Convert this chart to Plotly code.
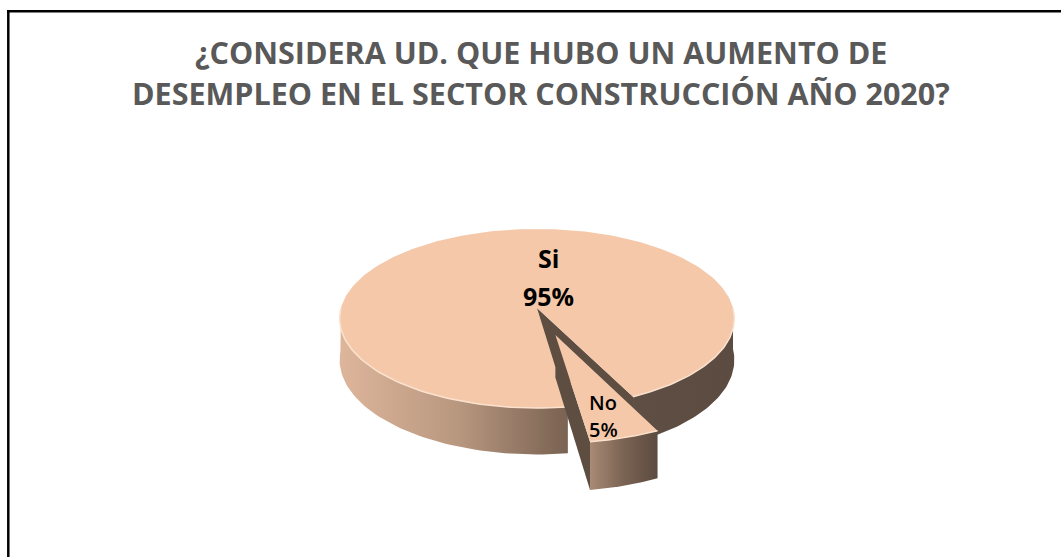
import math
import plotly.graph_objects as go

# ---- data ----
categories = ["Si", "No"]
values = [95, 5]
title_lines = ["¿CONSIDERA UD. QUE HUBO UN AUMENTO DE",
               "DESEMPLEO EN EL SECTOR CONSTRUCCIÓN AÑO 2020?"]

# ---- style / geometry (pixel space) ----
W, H = 1061, 557
CX, CY = 537, 308          # pie apex on screen
A, B = 196, 88.3           # ellipse radii
P = 0.117                  # perspective factor
D = 41                     # thickness
START = 172                # first slice angle (deg, clockwise from 12 o'clock)
EXPLODE = [0.0, 0.31]
TOP_COL = "#F4C8A9"
CUT_COL = "#5E4D41"

total = sum(values)
pcts = [round(v * 100 / total) for v in values]


def proj(theta, r=1.0, off=(0.0, 0.0), z=0.0):
    t = math.radians(theta)
    u = r * math.sin(t) + off[0]
    v = -r * math.cos(t) + off[1]
    s = 1.0 / (1.0 - P * v)
    return CX + A * u * s, CY + B * v * s + z * D * s


def arc(t0, t1, off, z=0.0, n=60):
    pts = []
    for i in range(n + 1):
        t = t0 + (t1 - t0) * i / n
        pts.append(proj(t, 1.0, off, z))
    return pts


def visible_ranges(t0, t1):
    out = []
    for k in (-360, 0, 360):
        lo, hi = max(t0, 90 + k), min(t1, 270 + k)
        if hi > lo:
            out.append((lo, hi))
    return out


fig = go.Figure()


def poly(pts, color=None, grad=None):
    xs = [p[0] for p in pts] + [pts[0][0]]
    ys = [p[1] for p in pts] + [pts[0][1]]
    kw = dict(x=xs, y=ys, mode="lines", fill="toself",
              line=dict(width=0), hoverinfo="skip", showlegend=False)
    if grad is not None:
        kw["fillgradient"] = grad
    else:
        kw["fillcolor"] = color
    fig.add_trace(go.Scatter(**kw))


# slices geometry
slices = []
ang = START
for i, v in enumerate(values):
    span = 360.0 * v / total
    mid = ang + span / 2
    e = EXPLODE[i]
    off = (e * math.sin(math.radians(mid)), -e * math.cos(math.radians(mid)))
    slices.append(dict(t0=ang, t1=ang + span, off=off, mid=mid))
    ang += span

side_grads = [
    dict(type="horizontal", start=CX - A, stop=CX + A,
         colorscale=[[0, "#DDB59B"], [0.3, "#B8977F"], [0.55, "#7F6756"],
                     [0.75, "#5F4E43"], [1, "#5C4B40"]]),
    dict(type="horizontal",
         colorscale=[[0, "#A88A75"], [0.5, "#7A6352"], [1, "#5C4B40"]]),
]

for i, s in enumerate(slices):
    off = s["off"]
    apex_top = proj(0, 0, off, 0)
    apex_bot = proj(0, 0, off, 1)
    # visible radial cut face
    te = s["t1"]
    poly([apex_top, proj(te, 1, off, 0), proj(te, 1, off, 1), apex_bot], CUT_COL)
    # outer side
    for lo, hi in visible_ranges(s["t0"], s["t1"]):
        top = arc(lo, hi, off, 0)
        bot = arc(hi, lo, off, 1)
        poly(top + bot, grad=side_grads[i])
    # top face
    pts = [apex_top] + arc(s["t0"], s["t1"], off, 0, n=240)
    poly(pts, TOP_COL)
    # bevel highlight on front rim
    for lo, hi in visible_ranges(s["t0"], s["t1"]):
        rim = arc(lo, hi, off, 0)
        fig.add_trace(go.Scatter(x=[p[0] for p in rim], y=[p[1] for p in rim],
                                 mode="lines", line=dict(color="#FBE2CF", width=1.5),
                                 hoverinfo="skip", showlegend=False))

# labels
label_pos = [((548, 258), (548, 296)), ((603, 402), (603, 429))]
label_size = [25, 20]
label_weight = ["bold", 600]
for i, cat in enumerate(categories):
    (x1, y1), (x2, y2) = label_pos[i]
    for txt, (x, y) in ((cat, (x1, y1)), (f"{pcts[i]}%", (x2, y2))):
        fig.add_annotation(x=x, y=y, text=txt, showarrow=False, xref="x", yref="y",
                           font=dict(family="Open Sans", size=label_size[i],
                                     color="#000000", weight=label_weight[i]))

# title
for k, line in enumerate(title_lines):
    fig.add_annotation(x=541, y=52 + 41 * k, text=line, showarrow=False, xref="x", yref="y",
                       font=dict(family="Open Sans", size=30.5, color="#595959", weight="bold"))

# frame
fig.add_shape(type="line", x0=8.3, x1=8.3, y0=10, y1=H, xref="x", yref="y",
              line=dict(color="black", width=2.5))
fig.add_shape(type="line", x0=7, x1=W, y0=11.2, y1=11.2, xref="x", yref="y",
              line=dict(color="black", width=2.5))

fig.update_layout(
    width=W, height=H, margin=dict(l=0, r=0, t=0, b=0),
    paper_bgcolor="white", plot_bgcolor="white",
    xaxis=dict(range=[0, W], visible=False, fixedrange=True),
    yaxis=dict(range=[H, 0], visible=False, fixedrange=True),
    showlegend=False,
)

fig.write_html("out.html", config={"displayModeBar": False},
               post_script="document.body.style.margin='0';document.body.style.overflow='hidden';")
